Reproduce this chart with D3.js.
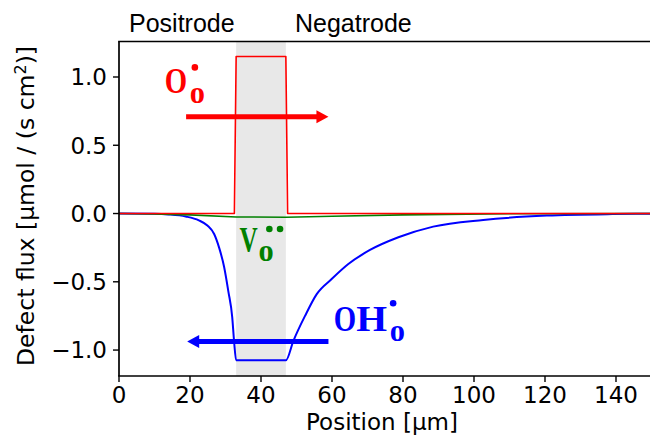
<!DOCTYPE html>
<html><head><meta charset="utf-8">
<script src="https://cdn.jsdelivr.net/npm/d3@7"></script>
<style>html,body{margin:0;padding:0;background:#fff;overflow:hidden}</style>
</head><body><svg id="c" width="650" height="436"></svg>
<script>
// ---- data ----
const xTicks = [0, 20, 40, 60, 80, 100, 120, 140];
const yTicks = [-1.0, -0.5, 0.0, 0.5, 1.0];
const regionLabels = ["Positrode", "Negatrode"];
const shadeRange = [33, 47];

const posO  = [0, 32.5, 33, 47, 47.5, 150];
const fluxO = [0, 0, 1.15, 1.15, 0, 0];

const posV  = [0, 10, 20, 33, 47, 60, 80, 110, 150];
const fluxV = [0, -0.003, -0.01, -0.025, -0.027, -0.02, -0.01, -0.002, 0];

const posOH  = [0, 10, 14, 18.8, 22.5, 24.9, 26.8, 28.2, 29.6, 30.8, 31.9, 32.4, 33, 47, 49.1, 52.4, 55.7, 59.9, 64.6, 70.7, 78.7, 88.5, 102.6, 120.5, 139, 150];
const fluxOH = [0, -0.002, -0.007, -0.022, -0.05, -0.088, -0.15, -0.25, -0.39, -0.57, -0.76, -0.93, -1.075, -1.075, -0.934, -0.75, -0.59, -0.48, -0.37, -0.267, -0.174, -0.096, -0.047, -0.015, -0.004, -0.002];

// arrows: [from x, to x, y]
const arrowO  = [18.9, 59, 0.708];
const arrowOH = [59, 19.2, -0.938];

// ---- layout ----
const svg = d3.select("#c");
svg.append("rect").attr("width", 650).attr("height", 436).attr("fill", "#fff");
const L = 119, R = 651.5, T = 41.5, B = 376;
const x = d3.scaleLinear().domain([0, 150]).range([L, R]);
const y = d3.scaleLinear().domain([-1.19, 1.26]).range([B, T]);

svg.append("clipPath").attr("id", "clip").append("rect")
  .attr("x", L).attr("y", T).attr("width", R - L).attr("height", B - T);
const plot = svg.append("g").attr("clip-path", "url(#clip)");

plot.append("rect")
  .attr("x", x(shadeRange[0])).attr("y", T)
  .attr("width", x(shadeRange[1]) - x(shadeRange[0])).attr("height", B - T)
  .attr("fill", "#e8e8e8");

function series(xs, ys, color, w, curve) {
  const line = d3.line().x(d => x(d[0])).y(d => y(d[1])).curve(curve);
  plot.append("path").datum(xs.map((v, i) => [v, ys[i]]))
    .attr("d", line).attr("fill", "none").attr("stroke", color)
    .attr("stroke-width", w).attr("stroke-linejoin", "round");
}
series(posOH, fluxOH, "#0000ff", 2, d3.curveMonotoneX);
series(posV, fluxV, "#008000", 1.6, d3.curveLinear);
series(posO, fluxO, "#ff0000", 1.6, d3.curveLinear);

function arrow(a, color) {
  const x0 = x(a[0]), x1 = x(a[1]), yy = y(a[2]);
  const dir = Math.sign(x1 - x0), hl = 12, hw = 6.5;
  plot.append("line").attr("x1", x0).attr("x2", x1 - dir * hl * 0.6)
    .attr("y1", yy).attr("y2", yy).attr("stroke", color).attr("stroke-width", 5);
  plot.append("path")
    .attr("d", `M${x1},${yy} L${x1 - dir * hl},${yy - hw} L${x1 - dir * hl},${yy + hw} Z`)
    .attr("fill", color);
}
arrow(arrowO, "#ff0000");
arrow(arrowOH, "#0000ff");

// ---- Kröger-Vink labels ----
const serif = "'Liberation Serif', 'Times New Roman', serif";
function kv(bx, by, glyphs, dots, color) {
  const g = svg.append("g");
  glyphs.forEach(p => {
    g.append("text")
      .attr("transform", `translate(${bx + p.dx},${by + p.dy}) scale(${p.k || 1},1)`)
      .attr("font-family", serif).attr("font-weight", "bold").attr("fill", color)
      .attr("font-size", p.s).text(p.t);
  });
  dots.forEach(d => g.append("circle").attr("cx", bx + d[0]).attr("cy", by + d[1])
    .attr("r", 3.3).attr("fill", color));
}
kv(x(13.2), y(0.88),
  [{t: "O", dx: -1, dy: 0, s: 36, k: 0.8}, {t: "o", dx: 24, dy: 10, s: 32, k: 0.95}],
  [[29, -26]], "#ff0000");
kv(x(34.1), y(-0.285),
  [{t: "V", dx: -0.5, dy: 0, s: 36, k: 0.7}, {t: "o", dx: 18.5, dy: 8.3, s: 32, k: 0.95}],
  [[29.3, -23.5], [40, -23.5]], "#008000");
kv(x(60.8), y(-0.86),
  [{t: "O", dx: -1, dy: 0, s: 36, k: 0.8}, {t: "H", dx: 21.5, dy: 0, s: 36, k: 1.1}, {t: "o", dx: 55, dy: 10, s: 32, k: 0.95}],
  [[58.3, -27.7]], "#0000ff");

// ---- axes ----
const sans = "'DejaVu Sans', sans-serif";
const ax = svg.append("g");
ax.append("line").attr("x1", L).attr("x2", L).attr("y1", T).attr("y2", B).attr("stroke", "#000").attr("stroke-width", 1.7);
ax.append("line").attr("x1", R).attr("x2", R).attr("y1", T).attr("y2", B).attr("stroke", "#000").attr("stroke-width", 1.7);
ax.append("line").attr("x1", L).attr("x2", R).attr("y1", T).attr("y2", T).attr("stroke", "#000").attr("stroke-width", 1.7).attr("stroke-linecap", "square");
ax.append("line").attr("x1", L).attr("x2", R).attr("y1", B).attr("y2", B).attr("stroke", "#000").attr("stroke-width", 1.7).attr("stroke-linecap", "square");

const fmt = v => (v < 0 ? "\u2212" : "") + Math.abs(v).toFixed(1);
yTicks.forEach(v => {
  ax.append("line").attr("x1", L - 6).attr("x2", L).attr("y1", y(v)).attr("y2", y(v))
    .attr("stroke", "#000").attr("stroke-width", 1.4);
  ax.append("text").attr("x", L - 12).attr("y", y(v)).attr("dy", "0.36em")
    .attr("text-anchor", "end").attr("font-family", sans).attr("font-size", 23)
    .attr("fill", "#000").text(fmt(v));
});
xTicks.forEach(v => {
  ax.append("line").attr("x1", x(v)).attr("x2", x(v)).attr("y1", B).attr("y2", B + 6)
    .attr("stroke", "#000").attr("stroke-width", 1.4);
  ax.append("text").attr("x", x(v)).attr("y", 403)
    .attr("text-anchor", "middle").attr("font-family", sans).attr("font-size", 23)
    .attr("fill", "#000").text(v);
});
ax.append("text").attr("x", 382).attr("y", 430).attr("text-anchor", "middle")
  .attr("font-family", sans).attr("font-size", 23).attr("fill", "#000").text("Position [\u03bcm]");
const yl = ax.append("text").attr("transform", "translate(34,206) rotate(-90)")
  .attr("text-anchor", "middle").attr("font-family", sans).attr("font-size", 23.5).attr("fill", "#000");
yl.append("tspan").text("Defect flux [\u03bcmol / (s cm");
yl.append("tspan").attr("dy", -8).attr("font-size", 16).text("2");
yl.append("tspan").attr("dy", 8).text(")]");

// region labels
const lsans = "'Liberation Sans', Arial, sans-serif";
svg.append("text").attr("x", 129).attr("y", 32).attr("font-family", lsans).attr("font-size", 25)
  .attr("fill", "#000").text(regionLabels[0]);
svg.append("text").attr("x", 295).attr("y", 32).attr("font-family", lsans).attr("font-size", 25)
  .attr("fill", "#000").text(regionLabels[1]);
</script>
</body></html>
